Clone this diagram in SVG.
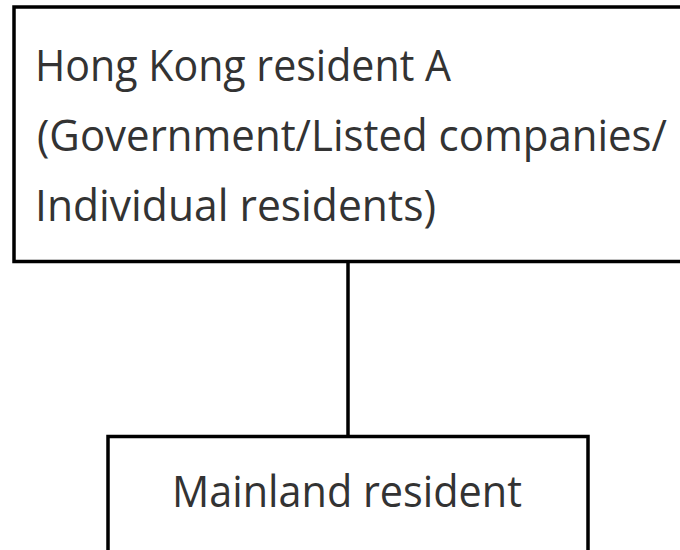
<svg xmlns="http://www.w3.org/2000/svg" width="680" height="550" viewBox="0 0 680 550">
  <style>
    .box { fill: #ffffff; stroke: #000000; stroke-width: 3.5; }
    .conn { stroke: #000000; stroke-width: 3.5; fill: none; }
    .t { font-family: "Open Sans", "Noto Sans", "Liberation Sans", sans-serif; font-size: 43px; fill: #333333; }
  </style>
  <rect width="680" height="550" fill="#ffffff"/>
  <g id="connectors">
    <line class="conn" x1="348" y1="262" x2="348" y2="436"/>
  </g>
  <g id="node-hk-resident-a">
    <rect class="box" x="14" y="7" width="700" height="254.5"/>
    <text class="t" x="35" y="81" textLength="416" lengthAdjust="spacingAndGlyphs">Hong Kong resident A</text>
    <text class="t" x="37" y="151" textLength="630" lengthAdjust="spacingAndGlyphs">(Government/Listed companies/</text>
    <text class="t" x="35" y="221" textLength="401" lengthAdjust="spacingAndGlyphs">Individual residents)</text>
  </g>
  <g id="node-mainland-resident">
    <rect class="box" x="108" y="436.5" width="480" height="140"/>
    <text class="t" x="172" y="507" textLength="350" lengthAdjust="spacingAndGlyphs">Mainland resident</text>
  </g>
</svg>
